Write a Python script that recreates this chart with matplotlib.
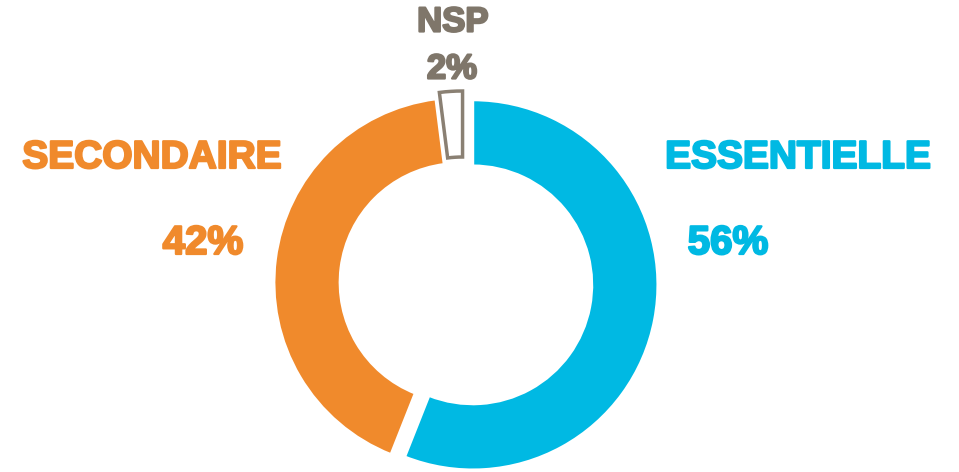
import matplotlib.pyplot as plt
import matplotlib.patheffects as pe

# data
labels = ["ESSENTIELLE", "SECONDAIRE", "NSP"]
shares = [56, 42, 2]
fills = ["#00B9E3", "#F08A2C", "#FFFFFF"]
edges = ["#FFFFFF", "#FFFFFF", "#8A8073"]
text_colors = ["#00B9E3", "#F08A2C", "#7F766A"]
explode = [10, 4, 7]  # offsets in pixels (data units)

W, H = 959, 472
fig = plt.figure(figsize=(W / 100, H / 100), dpi=100)
ax = fig.add_axes([0, 0, 1, 1])

cx, cy, R = 463, H - 283, 185
wedges, _ = ax.pie(shares, colors=fills, startangle=90, counterclock=False,
                   explode=explode, radius=R, center=(cx, cy), frame=True,
                   wedgeprops=dict(width=66, linewidth=2))
for w, ec in zip(wedges, edges):
    w.set_edgecolor(ec)
wedges[2].set_linewidth(2.5)
ax.set_xlim(0, W)
ax.set_ylim(0, H)
ax.set_aspect("equal")
ax.axis("off")


def label(x, y, s, color, size):
    ax.text(x, H - y, s, color=color, fontsize=size, weight="bold",
            family=["Liberation Sans", "DejaVu Sans"], ha="center", va="center",
            path_effects=[pe.withStroke(linewidth=1.6, foreground=color)])


label(798, 158, labels[0], text_colors[0], 28)
label(728, 243, f"{shares[0]}%", text_colors[0], 29)
label(152, 158, labels[1], text_colors[1], 28)
label(203, 243, f"{shares[1]}%", text_colors[1], 29)
label(453, 22, labels[2], text_colors[2], 25)
label(452, 69, f"{shares[2]}%", text_colors[2], 25)

fig.savefig("out.png", dpi=100)
